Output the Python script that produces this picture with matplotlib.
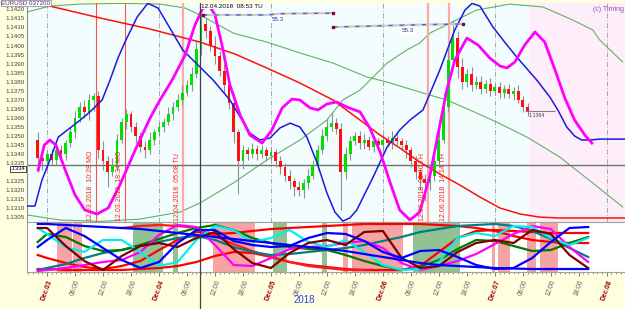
import numpy as np
import matplotlib
matplotlib.use("Agg")
import matplotlib.pyplot as plt
import matplotlib.transforms as mtransforms

plt.rcParams["font.family"] = ["Liberation Sans", "DejaVu Sans"]

BASE = 1.1300  # prices below are pips above this level

# hourly candles, hours counted from Dec.03 00:00
candle_t0 = -2
first_open = 48
closes = [38, 36, 40, 37, 42, 40, 46, 52, 60, 66,
          63, 70, 72, 42, 36, 30, 34, 48, 58, 62,
          55, 50, 44, 42, 48, 52, 55, 58, 62, 66,
          70, 74, 78, 84, 98, 112, 108, 100, 94, 86,
          78, 68, 52, 36, 42, 40, 43, 40, 42, 39,
          41, 36, 33, 28, 25, 22, 20, 24, 28, 34,
          42, 50, 55, 57, 54, 30, 40, 47, 50, 46,
          48, 44, 47, 45, 48, 46, 49, 47, 45, 42,
          36, 30, 26, 24, 28, 36, 48, 66, 92, 104,
          88, 80, 84, 78, 80, 76, 79, 75, 77, 74,
          76, 73, 75, 70, 66, 64]
hi_ext = [4, 3, 2, 3, 2, 3, 2, 3, 4, 3,
          4, 3, 2, 3, 5, 3, 4, 3, 2, 3,
          2, 3, 2, 3, 4, 2, 3, 2, 4, 3,
          3, 4, 3, 4, 5, 9, 4, 3, 5, 3,
          4, 3, 6, 2, 3, 2, 3, 2, 3, 2,
          3, 2, 3, 2, 3, 2, 3, 2, 4, 3,
          3, 4, 5, 6, 3, 3, 4, 3, 2, 3,
          3, 2, 3, 2, 3, 2, 4, 3, 2, 3,
          2, 3, 2, 3, 4, 5, 6, 8, 6, 10,
          4, 5, 3, 4, 3, 3, 2, 3, 2, 3,
          2, 3, 2, 3, 2, 2]
lo_ext = [8, 5, 4, 3, 3, 2, 3, 2, 3, 2,
          3, 4, 6, 4, 5, 8, 2, 3, 2, 4,
          3, 4, 3, 4, 2, 3, 2, 3, 2, 3,
          2, 3, 2, 3, 2, 3, 4, 3, 4, 3,
          4, 3, 6, 18, 4, 3, 2, 3, 2, 3,
          2, 3, 4, 3, 4, 5, 3, 4, 3, 2,
          3, 2, 3, 2, 3, 21, 4, 3, 2, 3,
          3, 2, 3, 2, 3, 2, 3, 2, 3, 4,
          3, 4, 6, 10, 4, 3, 3, 2, 3, 4,
          6, 4, 3, 3, 2, 3, 2, 3, 2, 3,
          3, 2, 3, 2, 3, 3]

# overlay curves (hours, pips)
red_t = [-4.3, -0.4, 11.4, 22.1, 32.8, 40.3, 47.1, 54.2, 61.3, 67.1, 71.4, 75.6,
         79.9, 84.2, 88.5, 92.8, 97.1, 101.4, 105.6, 109.9, 123.9]
red_p = [125.1, 122.4, 115.2, 109.1, 101.9, 95.3, 87.6, 79.3, 69.9, 58.8, 50.5, 43.4,
         35.6, 29.0, 22.9, 16.3, 10.2, 6.9, 5.2, 4.7, 4.7]

blue_t = [-4.3, -2.6, -1.1, 0.6, 2.4, 4.9, 7.1, 9.2, 11.8, 13.5, 15.2, 16.7, 19.3,
          21.6, 23.8, 25.7, 29.1, 32.8, 35.6, 39.2, 43.5, 45.6, 47.8, 49.9, 52.1,
          54.2, 55.7, 57.9, 60.0, 61.7, 63.4, 64.9, 66.4, 69.9, 72.9, 75.6, 77.8,
          80.6, 84.2, 87.4, 89.6, 91.1, 92.8, 95.6, 98.1, 100.7, 105.0, 107.8,
          109.5, 111.4, 113.1, 114.6, 116.4, 118.5, 123.9]
blue_p = [11.3, 11.3, 25.6, 36.7, 49.4, 54.4, 58.8, 63.3, 69.9, 80.9, 93.1, 101.9,
          115.7, 123.3, 120.7, 112.4, 97.5, 88.1, 80.9, 69.9, 51.6, 47.8, 48.9, 54.4,
          57.1, 55.0, 49.4, 35.1, 18.5, 8.0, 3.0, 4.7, 9.1, 27.3, 43.9, 53.3, 58.8,
          64.4, 86.5, 108.6, 119.6, 123.3, 121.8, 110.2, 101.9, 93.6, 80.9, 71.5,
          64.4, 55.0, 50.0, 47.8, 47.8, 48.3, 48.3]

mag_t = [-1.9, -0.6, 0.6, 1.9, 3.9, 6.0, 8.1, 10.7, 13.1, 15.6, 18.9, 22.1, 24.2,
         26.8, 29.6, 31.7, 33.4, 34.5, 36.0, 37.5, 39.2, 41.4, 43.5, 46.1, 48.2,
         50.4, 52.5, 54.2, 56.4, 58.1, 60.0, 62.1, 64.3, 67.1, 69.2, 71.4, 73.5,
         75.6, 77.8, 79.9, 82.1, 84.2, 85.7, 87.4, 90.0, 92.4, 94.9, 97.1, 98.6,
         100.3, 102.4, 104.6, 106.7, 108.9, 111.0, 113.1, 115.3, 116.8]
mag_p = [31.2, 45.0, 47.8, 45.0, 31.2, 17.4, 9.1, 6.9, 10.2, 22.9, 42.3, 60.0, 69.9,
         80.9, 94.7, 111.3, 120.7, 123.3, 116.9, 100.3, 78.2, 61.6, 50.5, 46.1, 53.3,
         65.5, 70.4, 69.9, 65.5, 64.4, 67.7, 68.8, 66.0, 63.3, 54.4, 41.2, 24.6, 9.1,
         3.6, 8.0, 28.4, 56.0, 75.4, 91.9, 104.1, 100.3, 93.1, 88.7, 87.6, 90.9,
         100.3, 107.5, 101.9, 86.5, 71.0, 58.8, 50.5, 46.1]

greenA_t = [-4.3, 0.6, 7.1, 15.6, 24.2, 29.6, 32.8, 39.9, 47.1, 54.2, 61.3, 68.6,
            72.9, 79.9, 85.7, 92.1, 96.4, 102.9, 109.9, 117.0, 123.4]
greenA_p = [118.5, 121.8, 122.9, 123.3, 122.9, 120.7, 116.9, 106.9, 101.9, 95.9,
            90.3, 82.6, 79.8, 74.3, 69.9, 62.7, 57.7, 49.4, 38.4, 24.0, 10.8]

greenB_t = [-4.3, 2.8, 11.4, 19.9, 28.5, 32.8, 39.9, 47.1, 54.2, 60.0, 63.4, 67.1,
            69.9, 72.9, 77.1, 79.9, 82.1, 86.4, 92.1, 99.2, 106.3, 112.7, 117.0,
            118.5, 123.4]
greenB_p = [6.4, 3.6, 2.8, 4.1, 8.0, 13.0, 24.0, 36.7, 47.8, 58.8, 69.9, 75.4,
            82.6, 90.3, 97.5, 101.4, 106.9, 112.4, 119.6, 122.9, 121.3, 114.1,
            108.6, 103.0, 90.9]

# "55.3" projection lines
proj1_t = [33.4, 47.1, 49.9, 61.3]
proj1_p = [116.9, 116.9, 117.6, 117.9]
proj2_t = [61.3, 80.0, 89.1]
proj2_p = [110.2, 111.5, 111.9]
proj_labels = [(48.2, 115.6, "55.3"), (76.1, 109.6, "55.3")]

# signal lines
mark_t = [10.5, 16.7, 29.1, 81.6, 86.1]
mark_text = ["12.03.2018  10:28 MO", "12.03.2018  18:34 MO", "12.04.2018  05:08 TU",
             "12.06.2018  08:40 TH", "12.06.2018  14:14 TH"]
cursor_t = 32.88
cursor_text = "12.04.2018  08:53 TU"
last_price = 1.1334
close_label = "1.1364"

# cycle panel, values 0..50
cyc_t = [-2, 0, 4, 8, 12, 16, 20, 24, 28, 32, 36, 40, 44, 48, 52, 56, 60, 64, 68,
         72, 76, 80, 84, 88, 92, 96, 100, 104, 108, 112, 116]
cyc_blue_wave = [25, 32, 44, 36, 24, 12, 4, 10, 29, 42, 42, 31, 27, 25, 26, 34, 39,
                 38, 31, 20, 14, 21, 22, 15, 7, 3, 4, 14, 30, 44, 45]
cyc_blue_slow = [48, 48, 47, 46, 45, 44, 43, 41, 39, 37, 35, 33, 31, 29, 27, 25, 23,
                 21, 18, 15, 12, 9, 7, 6, 5, 4, 3.5, 3, 3, 3, 3]
cyc_cyan = [44, 38, 25, 20, 32, 32, 20, 6, 10, 32, 46, 42, 30, 34, 42, 30, 25, 32,
            20, 7, 2, 3, 10, 34, 39, 36, 46, 45, 34, 27, 34]
cyc_maroon = [44, 44, 26, 11, 2, 16, 26, 29, 25, 34, 40, 23, 9, 4, 19, 29, 32, 27,
              40, 41, 14, 4, 6, 20, 29, 32, 29, 42, 38, 17, 4]
cyc_green = [30, 38, 35, 26, 21, 22, 27, 33, 39, 44, 47, 42, 34, 29, 25, 23, 22, 17,
             11, 6, 2, 5, 12, 23, 32, 31, 26, 21, 22, 29, 35]
cyc_teal = [2, 4, 8, 14, 19, 22, 26, 30, 34, 36, 32, 25, 20, 17, 18, 20, 22, 24, 27,
            31, 35, 40, 43, 46, 47, 48, 46, 41, 33, 24, 15]
cyc_red_a = [17, 14, 9, 5, 3, 6, 11, 22, 32, 40, 38, 39, 41, 43, 44, 45, 46, 47, 48,
             48, 48, 48, 47, 46, 44, 41, 36, 32, 30, 29, 29]
cyc_red_b = [3, 3, 2, 2, 2, 2, 3, 4, 6, 10, 16, 20, 19, 15, 10, 7, 5, 3, 2, 2, 2, 6,
             20, 34, 41, 42, 41, 40, 39, 39, 39]
cyc_red_c_t = [16, 20, 24, 28, 32, 36, 40, 44, 48, 52, 56, 60, 64, 68]
cyc_red_c = [44, 46, 47, 46, 44, 36, 28, 21, 15, 10, 6, 4, 2, 2]
cyc_magenta = [1, 2, 4, 7, 10, 12, 20, 37, 47, 45, 27, 7, 6, 14, 23, 25, 26, 29, 31,
               24, 9, 2, 6, 11, 18, 28, 38, 46, 43, 25, 10]

pink_bands = [(2.1, 5.4), (5.6, 7.5), (35.6, 44.6), (63.4, 64.5), (65.4, 76.3),
              (95.4, 96.0), (96.6, 99.2), (102.9, 104.8), (105.6, 109.5)]
green_bands = [(18.4, 24.9), (27.0, 28.1), (48.4, 51.4), (58.9, 60.0), (78.4, 88.5)]

day_names = ["Dec.03", "Dec.04", "Dec.05", "Dec.06", "Dec.07", "Dec.08"]
hour_names = ["06:00", "12:00", "18:00"]


def price(p):
    return BASE + np.asarray(p, dtype=float) / 1e4


fig = plt.figure(figsize=(6.25, 3.09), dpi=100, facecolor="#ffffe0")
ax = fig.add_axes([0.0432, 0.2816, 0.9568, 0.7087])
axc = fig.add_axes([0.0432, 0.1197, 0.9568, 0.1619])

XL = (-4.3, 123.9)

# ---- main panel
ax.set_facecolor("#f3fdfd")
ax.axvspan(103.4, XL[1], color="#fdeef9", lw=0, zorder=0)
for d in range(0, 121, 24):
    ax.axvline(d, color="#a8a8a8", lw=0.7, ls=(0, (5, 2, 1, 2)), zorder=1)

ax.plot(greenA_t, price(greenA_p), color="#64b064", lw=0.8, zorder=2)
ax.plot(greenB_t, price(greenB_p), color="#64b064", lw=0.8, zorder=2)

for i, t in enumerate(mark_t):
    pale = i >= 2
    ax.axvline(t, color="#ffa8a8" if pale else "#ff5050", lw=1.6 if pale else 0.8, zorder=2)
    ax.text(t - 0.4, 1.13028, mark_text[i], rotation=90, ha="right", va="bottom",
            fontsize=5, color="#ff2020", zorder=8)

ax.axhline(last_price, color="#707070", lw=1.0, zorder=2)

# candles
ct = np.arange(candle_t0, candle_t0 + len(closes))
c = price(closes)
o = np.r_[price(first_open), c[:-1]]
hi = np.maximum(o, c) + np.array(hi_ext) / 1e4
lo = np.minimum(o, c) - np.array(lo_ext) / 1e4
up = c >= o
ax.vlines(ct, lo, hi, color="#909090", lw=0.8, zorder=3)
ax.bar(ct, np.maximum(np.abs(c - o), 0.00003), bottom=np.minimum(o, c), width=0.62,
       color=np.where(up, "#00e000", "#ff1010"), zorder=4)

ax.hlines(price(63.8), 102.4, 108.9, color="#808080", lw=0.8, zorder=4)
ax.text(103.2, price(62.9), close_label, fontsize=3.8, color="#404040", va="top", ha="left")

ax.plot(red_t, price(red_p), color="#ff1010", lw=1.1, zorder=5)
ax.plot(blue_t, price(blue_p), color="#1a1ae0", lw=1.1, zorder=5)
ax.plot(mag_t, price(mag_p), color="#ff00ff", lw=2.0, zorder=6)

for pt, pp in [(proj1_t, proj1_p), (proj2_t, proj2_p)]:
    ax.plot(pt, price(pp), color="#c8c8f0", lw=1.6, zorder=6)
    ax.plot(pt, price(pp), color="#6060a8", lw=1.0, ls=(0, (4, 4)), zorder=6)
    ax.plot(pt, price(pp), color="#e8e030", lw=1.0, ls=(5, (1.5, 6.5)), zorder=6)
    ax.plot([pt[0], pt[-1]], price([pp[0], pp[-1]]), ls="none", marker="s", ms=1.8,
            color="#800040", zorder=7)
for lt, lp, s in proj_labels:
    ax.text(lt, price(lp), s, fontsize=4.5, color="#3030a0", ha="left", va="top",
            bbox=dict(fc="white", ec="none", pad=0.4), zorder=7)

ax.axvline(cursor_t, color="#404040", lw=0.9, zorder=7)
ax.text(cursor_t + 0.2, 1.14232, cursor_text, fontsize=4.6, color="black", ha="left",
        va="top", bbox=dict(fc="white", ec="none", pad=0.4), zorder=9)
ax.text(0.998, 0.985, "(c) Timing", transform=ax.transAxes, ha="right", va="top",
        fontsize=5, color="#8858a8")

ax.set_xlim(*XL)
ax.set_ylim(1.13025, 1.14235)
yt = np.round(np.arange(1.1305, 1.14201, 0.0005), 4)
ax.set_yticks(yt)
# the last-price box covers the 1.1330 label, as on the original terminal
ax.set_yticklabels(["" if abs(v - 1.1330) < 1e-6 else f"{v:.4f}" for v in yt])
ax.tick_params(axis="y", labelsize=4.5, labelcolor="#404040", length=0, pad=2)
ax.tick_params(axis="x", bottom=False, labelbottom=False)
for s in ["top", "right"]:
    ax.spines[s].set_visible(False)
ax.spines["left"].set_color("#909090")
ax.spines["bottom"].set_color("#a0a0a0")
ax.spines["left"].set_linewidth(0.8)
ax.spines["bottom"].set_linewidth(0.8)

trans = mtransforms.blended_transform_factory(ax.transAxes, ax.transData)
ax.text(-0.003, last_price - 0.00007, ".1334", transform=trans, ha="right", va="top",
        fontsize=4.2, color="black", zorder=10,
        bbox=dict(fc="white", ec="black", lw=0.5, pad=0.4))

fig.text(0.002, 0.998, "EURUSD 037200", fontsize=4.5, va="top", ha="left",
         color="#502070", bbox=dict(fc="white", ec="#808080", lw=0.5, pad=0.5))

# ---- cycle panel
axc.set_facecolor("white")
for a, b in pink_bands:
    axc.axvspan(a, b, color="#f5a3a3", lw=0, zorder=0)
for a, b in green_bands:
    axc.axvspan(a, b, color="#92c292", lw=0, zorder=0)

cyc_lines = [
    (cyc_t, cyc_red_a, "#ff0000"),
    (cyc_t, cyc_red_b, "#ff0000"),
    (cyc_red_c_t, cyc_red_c, "#ff1a1a"),
    (cyc_t, cyc_teal, "#008080"),
    (cyc_t, cyc_green, "#007a00"),
    (cyc_t, cyc_magenta, "#ff00ff"),
    (cyc_t, cyc_cyan, "#00f0f0"),
    (cyc_t, cyc_maroon, "#800000"),
    (cyc_t, cyc_blue_slow, "#0000ff"),
    (cyc_t, cyc_blue_wave, "#0000ff"),
]
for xt, yv, col in cyc_lines:
    axc.plot(xt, yv, color=col, lw=1.6, zorder=3)

axc.axvline(cursor_t, ymin=-0.75, ymax=1, color="#404040", lw=0.9, clip_on=False, zorder=6)

axc.set_xlim(*XL)
axc.set_ylim(0, 50)
axc.set_yticks([])
major = np.arange(0, 121, 6)
labels = []
for m in major:
    labels.append(day_names[m // 24] if m % 24 == 0 else hour_names[(m % 24) // 6 - 1])
axc.set_xticks(major)
axc.set_xticklabels(labels, rotation=70, ha="right", va="top", rotation_mode="anchor",
                    fontsize=4.8)
for lab, m in zip(axc.get_xticklabels(), major):
    if m % 24 == 0:
        lab.set_color("#990000")
        lab.set_fontweight("bold")
    else:
        lab.set_color("#606060")
axc.set_xticks(np.arange(-4, 124, 1), minor=True)
axc.tick_params(axis="x", which="major", length=3, color="#808080", pad=2)
axc.tick_params(axis="x", which="minor", length=1.5, color="#808080")
for s in ["right"]:
    axc.spines[s].set_visible(False)
for s in ["top", "left", "bottom"]:
    axc.spines[s].set_color("#a0a0a0")
    axc.spines[s].set_linewidth(0.8)

fig.text(304 / 625, 1 - 300 / 309, "2018", color="#2a46e0", fontsize=7,
         ha="center", va="center")

fig.savefig("out.png", dpi=100, facecolor=fig.get_facecolor())
